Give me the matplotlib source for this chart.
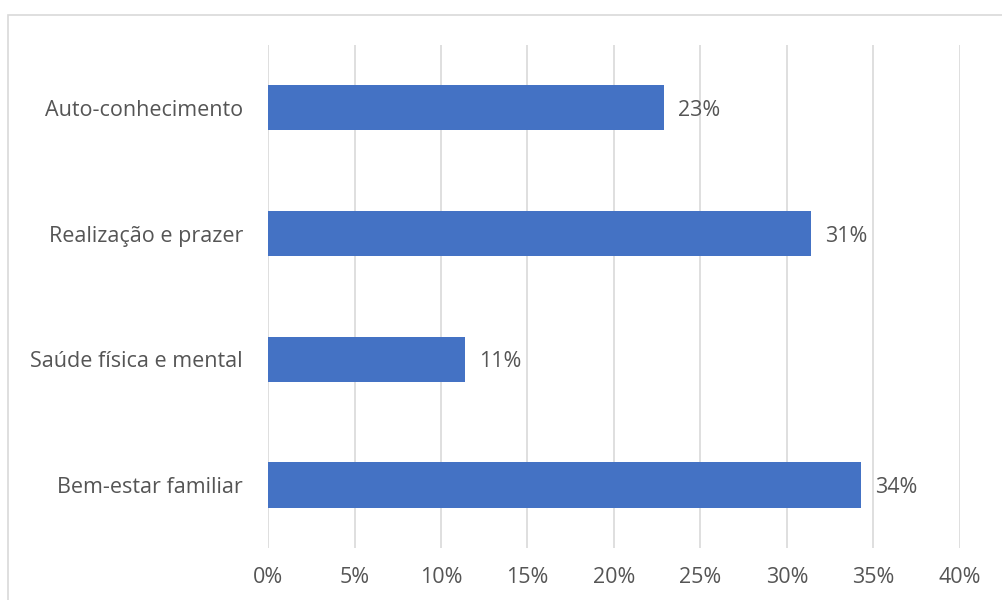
import matplotlib.pyplot as plt
from matplotlib.patches import Rectangle

categories = ["Auto-conhecimento", "Realização e prazer", "Saúde física e mental", "Bem-estar familiar"]
values = [22.9, 31.4, 11.4, 34.3]
xticks = [0, 5, 10, 15, 20, 25, 30, 35, 40]

plt.rcParams['font.family'] = ['Open Sans', 'DejaVu Sans']
text_col = '#555555'
grid_col = '#d9d9d9'

fig = plt.figure(figsize=(10.02, 6), dpi=100)
ax = fig.add_axes([0.2675, 0.087, 0.6905, 0.838])

# outer chart frame
fig.patches.append(Rectangle((8 / 1002, -0.1), 1.2, 1 - 15 / 600 + 0.1, transform=fig.transFigure,
                             fill=False, edgecolor=grid_col, linewidth=1.2))

ypos = list(range(len(categories)))
ax.barh(ypos, values, height=0.36, color='#4472C4', zorder=3)
for y, v in zip(ypos, values):
    ax.text(v + 0.8, y + 0.02, f"{v:.0f}%", va='center', ha='left', fontsize=15.5, color=text_col)

ax.set_yticks(ypos)
ax.set_yticklabels(categories)
ax.set_ylim(3.5, -0.5)
ax.set_xlim(0, 40)
ax.set_xticks(xticks)
ax.set_xticklabels([f"{t}%" for t in xticks])
ax.tick_params(axis='both', length=0, labelsize=15.5, colors=text_col)
ax.tick_params(axis='x', pad=14)
ax.tick_params(axis='y', pad=18)
ax.grid(axis='x', color=grid_col, linewidth=1.2, zorder=0)
for s in ax.spines.values():
    s.set_visible(False)

fig.savefig('out.png', dpi=100)
